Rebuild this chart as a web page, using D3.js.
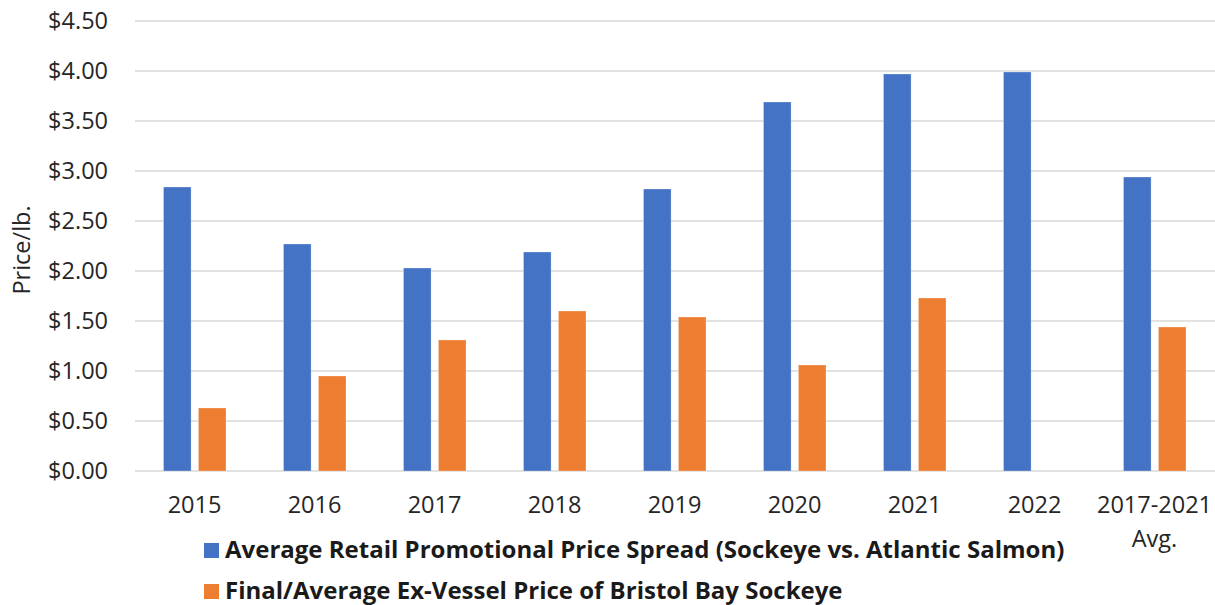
<!DOCTYPE html>
<html><head><meta charset="utf-8">
<script src="https://cdn.jsdelivr.net/npm/d3@7"></script>
<style>body{margin:0;background:#fff;}svg{display:block;font-family:"Open Sans",sans-serif;}</style>
</head><body><svg id="c" width="1215" height="605"></svg>
<script>
const categories = ["2015","2016","2017","2018","2019","2020","2021","2022","2017-2021 Avg."];
const retailSpread = [2.84, 2.27, 2.03, 2.19, 2.82, 3.69, 3.97, 3.99, 2.94];
const exVessel = [0.63, 0.95, 1.31, 1.60, 1.54, 1.06, 1.73, null, 1.44];
const yTicks = [0, 0.5, 1, 1.5, 2, 2.5, 3, 3.5, 4, 4.5];
const seriesNames = ["Average Retail Promotional Price Spread (Sockeye vs. Atlantic Salmon)", "Final/Average Ex-Vessel Price of Bristol Bay Sockeye"];
const colors = ["#4472C4", "#ED7D31"];

const svg = d3.select("#c");
const m = {left:135, right:1215, top:21, bottom:471};
const x = d3.scaleBand().domain(categories).range([m.left, m.right]);
const x1 = d3.scaleBand().domain([0,1]).range([28.5, 91]).paddingInner(0.21);
const y = d3.scaleLinear().domain([0,4.5]).range([m.bottom, m.top]);

// gridlines
svg.append("g").selectAll("line").data(yTicks).join("line")
  .attr("x1", m.left).attr("x2", m.right)
  .attr("y1", d=>y(d)).attr("y2", d=>y(d))
  .attr("stroke", "#d9d9d9").attr("stroke-width", 1.5);

// y axis labels
const yAxis = d3.axisLeft(y).tickValues(yTicks).tickFormat(d=>"$"+d.toFixed(2)).tickSize(0).tickPadding(0);
const ga = svg.append("g").attr("transform", `translate(108,0)`).call(yAxis);
ga.select(".domain").remove();
ga.selectAll("text").attr("font-size", 23.5).attr("fill", "#262626").attr("font-family", "Open Sans").attr("dy", "0.33em");

// bars
const series = [retailSpread, exVessel];
series.forEach((vals, si) => {
  svg.append("g").selectAll("rect").data(vals.map((v,i)=>({v, c:categories[i]})).filter(d=>d.v!=null)).join("rect")
    .attr("x", d => x(d.c) + x1(si))
    .attr("width", x1.bandwidth())
    .attr("y", d => y(d.v))
    .attr("height", d => y(0) - y(d.v))
    .attr("fill", colors[si])
    .attr("stroke", "#ffffff").attr("stroke-opacity", 0.35).attr("stroke-width", 0.8);
});

// x labels
const xl = svg.append("g");
categories.forEach(c => {
  const parts = c === "2017-2021 Avg." ? ["2017-2021", "Avg."] : [c];
  parts.forEach((p, i) => {
    xl.append("text").attr("x", x(c) + x.bandwidth()/2 - 0.5).attr("y", 513 + i*34)
      .attr("text-anchor", "middle").attr("font-size", 23.5).attr("fill", "#262626").text(p);
  });
});

// y title
svg.append("text").attr("transform", "translate(30,250) rotate(-90)")
  .attr("text-anchor", "middle").attr("font-size", 23.5).attr("fill", "#262626").text("Price/lb.");

// legend
const lg = svg.append("g");
seriesNames.forEach((n, i) => {
  const base = 558 + i*41;
  lg.append("rect").attr("x", 204).attr("y", base - 15).attr("width", 15).attr("height", 15).attr("fill", colors[i]);
  lg.append("text").attr("x", 225).attr("y", base)
    .attr("font-size", 24).attr("font-weight", "bold").attr("fill", "#1a1a1a").text(n);
});
</script></body></html>
